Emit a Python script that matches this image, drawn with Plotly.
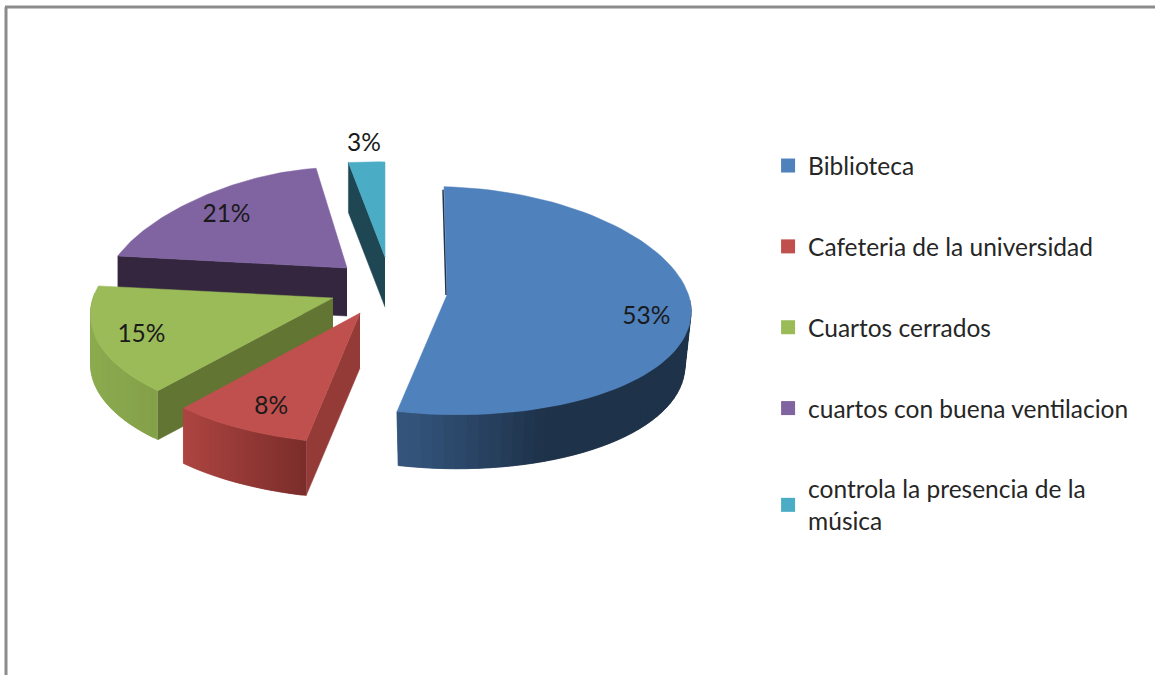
import numpy as np
import plotly.graph_objects as go

# pie data
categories = ["Biblioteca", "Cafeteria de la universidad", "Cuartos cerrados",
              "cuartos con buena ventilacion", "controla la presencia de la<br>música"]
percent = [53, 8, 15, 21, 3]

# look of each slice
top_colors = ["#4f81bd", "#c0504d", "#9bbb59", "#8064a2", "#4bacc6"]
edge_colors = ["#1f3550", "#943b38", "#637533", "#35263f", "#1e4653"]
wall_left = ["#35567f", "#ad4541", "#8bab4f", "#35263f", "#1e4653"]
wall_right = ["#1e3249", "#7a2d2b", "#84a04a", "#35263f", "#1e4653"]
wall_fade = [2.0, 1.0, 1.0, 1.0, 1.0]
apex_x = [447, 360, 333, 347, 385]
apex_y = [295, 313, 298, 268, 257]
depth = [54, 55, 49, 48, 50]
rim_scale = [0.975, 1, 1, 1, 1]
rx = [243, 240, 238, 234, 243]
ry = [114, 117, 114, 114, 108]
persp = [0.10, 0.20, 0.20, 0.30, 0.20]
squash = [0.05, 0.12, 0.12, 0.12, 0.12]
lean = [3, 0, 0, 0, 0]
label_r = [0.80, 0.76, 0.77, 0.75, 1.20]
label_dx = [4, 3, -10, -15, 1]
label_dy = [10, 7, 5, 3, 2]

SKEW = 5
FONT = "Lato"


def project(i, deg, r=1.0):
    t = np.radians(deg)
    u, v = np.sin(t), np.cos(t)
    x = apex_x[i] + r * rx[i] * u * (1 - persp[i] * v) - lean[i] * np.maximum(v, 0)
    y = apex_y[i] - r * ry[i] * v * (1 - squash[i] * v) + r * SKEW * u
    return x, y


def mix(c1, c2, f):
    a = [int(c1[k:k + 2], 16) for k in (1, 3, 5)]
    b = [int(c2[k:k + 2], 16) for k in (1, 3, 5)]
    return "rgb(%d,%d,%d)" % tuple(a[k] + (b[k] - a[k]) * f for k in range(3))


def poly(fig, xs, ys, color):
    fig.add_trace(go.Scatter(x=xs, y=ys, mode="lines", fill="toself", fillcolor=color,
                             line=dict(color=color, width=0.5), hoverinfo="skip", showlegend=False))


fig = go.Figure()

ends = np.cumsum(percent) * 3.6
starts = ends - np.array(percent) * 3.6

# back slices first so the front ones paint over them
for i in [4, 3, 2, 1, 0]:
    a0, a1 = starts[i], ends[i]
    # flat wall along the cut edge
    if a0 > 180:
        cx, cy = project(i, a0)
        poly(fig, [apex_x[i], cx, cx, apex_x[i]],
             [apex_y[i], cy, cy + depth[i], apex_y[i] + depth[i]], edge_colors[i])
    # rounded outer wall, split up for the shading; each strip runs under the next one
    w0, w1 = max(a0, 90), min(a1, 270)
    if w1 > w0:
        steps = np.linspace(w0, w1, 41)
        xa, _ = project(i, w0)
        xb, _ = project(i, w1)
        for k in range(40):
            x0, y0 = project(i, steps[k])
            x1, y1 = project(i, steps[min(k + 2, 40)])
            f = ((x0 + x1) / 2 - min(xa, xb)) / (abs(xa - xb) or 1)
            # the lower rim of the wall pulls in a little on the big slice
            bx0 = apex_x[i] + (x0 - apex_x[i]) * rim_scale[i]
            bx1 = apex_x[i] + (x1 - apex_x[i]) * rim_scale[i]
            poly(fig, [x0, x1, bx1, bx0], [y0, y1, y1 + depth[i], y0 + depth[i]],
                 mix(wall_left[i], wall_right[i], min(1, f * wall_fade[i])))
    # top face
    arc = np.linspace(a0, a1, 80)
    px, py = project(i, arc)
    poly(fig, [apex_x[i]] + list(px) + [apex_x[i]], [apex_y[i]] + list(py) + [apex_y[i]], top_colors[i])

# thin dark sliver left of the big slice
sx, sy = project(0, 0)
fig.add_trace(go.Scatter(x=[sx - 1, apex_x[0] - 1], y=[sy + 3, apex_y[0]], mode="lines",
                         line=dict(color=edge_colors[0], width=1.5), hoverinfo="skip", showlegend=False))

# percent labels
mids = (starts + ends) / 2
lx, ly = zip(*[project(i, mids[i], label_r[i]) for i in range(5)])
lx = [a + b for a, b in zip(lx, label_dx)]
ly = [a + b for a, b in zip(ly, label_dy)]
fig.add_trace(go.Scatter(x=lx, y=ly, mode="text", text=[f"{p}%" for p in percent],
                         textfont=dict(family=FONT, size=24.5, color="#1a1a1a"),
                         hoverinfo="skip", showlegend=False))

# legend entries
for name, color in zip(categories, top_colors):
    fig.add_trace(go.Scatter(x=[None], y=[None], mode="markers", name=name, legendgroup=name,
                             marker=dict(symbol="square", size=14, color=color)))

fig.update_xaxes(range=[0, 1155], visible=False)
fig.update_yaxes(range=[675, 0], visible=False)
fig.update_layout(
    width=1155, height=675,
    margin=dict(l=0, r=0, t=0, b=0),
    plot_bgcolor="white", paper_bgcolor="white",
    font=dict(family=FONT, size=24.5, color="#262626"),
    legend=dict(x=0.665, y=0.788, xanchor="left", yanchor="top", tracegroupgap=46,
                traceorder="grouped", bgcolor="rgba(0,0,0,0)"),
    shapes=[
        dict(type="line", xref="paper", yref="paper", x0=6 / 1155, x1=6 / 1155, y0=0, y1=1 - 7 / 675,
             line=dict(color="#8c8c8c", width=3)),
        dict(type="line", xref="paper", yref="paper", x0=5 / 1155, x1=1, y0=1 - 7 / 675, y1=1 - 7 / 675,
             line=dict(color="#8c8c8c", width=3)),
    ],
)

fig.write_html("out.html", config=dict(displayModeBar=False),
               post_script="document.body.style.margin='0';")
